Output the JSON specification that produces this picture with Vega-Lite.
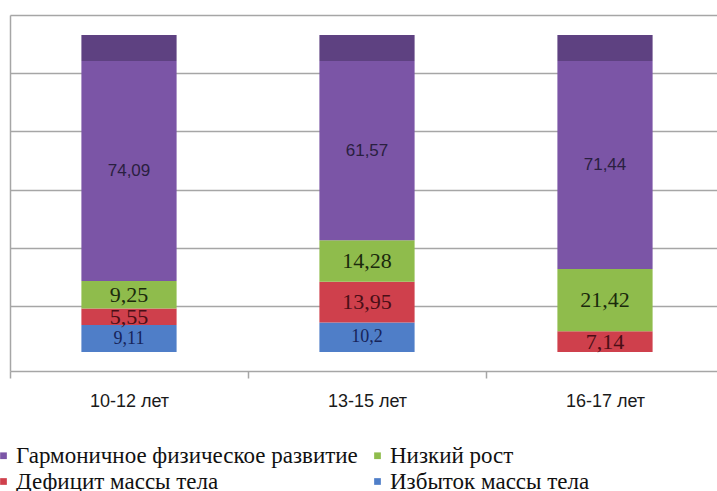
{
  "$schema": "https://vega.github.io/schema/vega-lite/v6.json",
  "width": 707,
  "height": 356,
  "autosize": {"type": "none"},
  "padding": {"left": 10, "top": 15, "right": 0, "bottom": 120},
  "config": {
    "view": {"stroke": null},
    "locale": {"number": {"decimal": ",", "thousands": " ", "grouping": [3], "currency": ["", ""]}}
  },
  "data": {
    "values": [
      {"age": "10-12 лет", "series": "Избыток массы тела", "value": 9.11},
      {"age": "10-12 лет", "series": "Дефицит массы тела", "value": 5.55},
      {"age": "10-12 лет", "series": "Низкий рост", "value": 9.25},
      {"age": "10-12 лет", "series": "Гармоничное физическое развитие", "value": 74.09},
      {"age": "13-15 лет", "series": "Избыток массы тела", "value": 10.2},
      {"age": "13-15 лет", "series": "Дефицит массы тела", "value": 13.95},
      {"age": "13-15 лет", "series": "Низкий рост", "value": 14.28},
      {"age": "13-15 лет", "series": "Гармоничное физическое развитие", "value": 61.57},
      {"age": "16-17 лет", "series": "Дефицит массы тела", "value": 7.14},
      {"age": "16-17 лет", "series": "Низкий рост", "value": 21.42},
      {"age": "16-17 лет", "series": "Гармоничное физическое развитие", "value": 71.44}
    ]
  },
  "transform": [
    {"calculate": "indexof(['Избыток массы тела','Дефицит массы тела','Низкий рост','Гармоничное физическое развитие'], datum.series)", "as": "ord"},
    {"stack": "value", "groupby": ["age"], "sort": [{"field": "ord", "order": "ascending"}], "offset": "normalize", "as": ["v0", "v1"]},
    {"calculate": "(datum.v0 + datum.v1) / 2", "as": "mid"}
  ],
  "encoding": {
    "x": {
      "field": "age",
      "type": "nominal",
      "sort": ["10-12 лет", "13-15 лет", "16-17 лет"],
      "scale": {"range": [0, 714], "paddingInner": 0, "paddingOuter": 0},
      "axis": {
        "title": null,
        "labelAngle": 0,
        "labelFont": "Liberation Sans",
        "labelFontSize": 18,
        "labelColor": "#1a1a1a",
        "labelPadding": 14,
        "domainColor": "#a6a6a6",
        "domainWidth": 1.5,
        "tickColor": "#a6a6a6",
        "tickWidth": 1.5,
        "tickSize": 7,
        "tickBand": "extent",
        "grid": false
      }
    }
  },
  "layer": [
    {
      "mark": {"type": "bar", "width": {"band": 0.4}},
      "encoding": {
        "y": {
          "field": "v0",
          "type": "quantitative",
          "scale": {"domain": [-0.065, 1.158], "nice": false, "zero": false},
          "axis": {
            "title": null,
            "labels": false,
            "ticks": false,
            "values": [0.158, 0.357, 0.557, 0.759, 0.959, 1.158],
            "grid": true,
            "gridColor": "#a6a6a6",
            "gridWidth": 1.5,
            "domainColor": "#a6a6a6",
            "domainWidth": 1.5
          }
        },
        "y2": {"field": "v1"},
        "color": {
          "field": "series",
          "type": "nominal",
          "scale": {
            "domain": ["Гармоничное физическое развитие", "Низкий рост", "Дефицит массы тела", "Избыток массы тела"],
            "range": ["#7B55A6", "#8FBC4C", "#CF404C", "#4F7EC8"]
          },
          "legend": {
            "orient": "none",
            "legendX": -18,
            "legendY": 429,
            "title": null,
            "columns": 2,
            "direction": "horizontal",
            "padding": 0,
            "values": ["Гармоничное физическое развитие", "Низкий рост", "Дефицит массы тела", "Избыток массы тела"],
            "labelFont": "Liberation Serif",
            "labelFontSize": 23,
            "labelColor": "#111111",
            "labelLimit": 600,
            "labelOffset": 1,
            "symbolType": "square",
            "symbolSize": 45,
            "symbolStrokeWidth": 0,
            "rowPadding": 2,
            "columnPadding": 8
          }
        }
      }
    },
    {
      "transform": [{"filter": "datum.series == 'Гармоничное физическое развитие'"}],
      "mark": {"type": "bar", "width": {"band": 0.4}, "color": "#5E4181"},
      "encoding": {"y": {"datum": 1.0}, "y2": {"datum": 1.089}}
    },
    {
      "transform": [{"filter": "datum.series == 'Гармоничное физическое развитие'"}],
      "mark": {"type": "text", "font": "Liberation Sans", "fontSize": 17, "color": "#2a2040", "baseline": "middle"},
      "encoding": {"y": {"field": "mid", "type": "quantitative"}, "text": {"field": "value", "type": "quantitative", "format": ".2~f"}}
    },
    {
      "transform": [{"filter": "datum.series == 'Низкий рост'"}],
      "mark": {"type": "text", "font": "Liberation Serif", "fontSize": 22, "color": "#1b2a0c", "baseline": "middle"},
      "encoding": {"y": {"field": "mid", "type": "quantitative"}, "text": {"field": "value", "type": "quantitative", "format": ".2~f"}}
    },
    {
      "transform": [{"filter": "datum.series == 'Дефицит массы тела'"}],
      "mark": {"type": "text", "font": "Liberation Serif", "fontSize": 22, "color": "#4a0e16", "baseline": "middle"},
      "encoding": {"y": {"field": "mid", "type": "quantitative"}, "text": {"field": "value", "type": "quantitative", "format": ".2~f"}}
    },
    {
      "transform": [{"filter": "datum.series == 'Избыток массы тела'"}],
      "mark": {"type": "text", "font": "Liberation Serif", "fontSize": 18, "color": "#17245a", "baseline": "middle"},
      "encoding": {"y": {"field": "mid", "type": "quantitative"}, "text": {"field": "value", "type": "quantitative", "format": ".2~f"}}
    }
  ]
}
